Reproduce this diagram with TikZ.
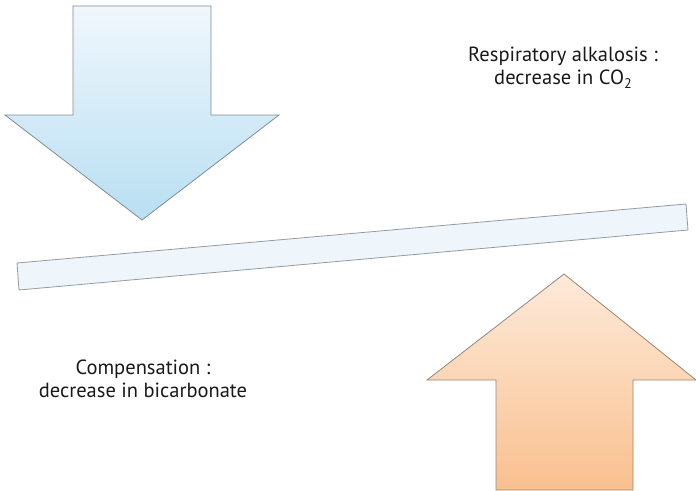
\documentclass[tikz,border=0pt]{standalone}
\usepackage{fontspec}
\setmainfont{PT Sans}
\definecolor{blueTop}{RGB}{240,247,252}
\definecolor{blueBot}{RGB}{184,223,242}
\definecolor{blueEdge}{RGB}{128,140,150}
\definecolor{barFill}{RGB}{238,245,251}
\definecolor{barEdge}{RGB}{150,155,160}
\definecolor{orTop}{RGB}{253,234,218}
\definecolor{orBot}{RGB}{249,192,143}
\definecolor{orEdge}{RGB}{150,135,120}
\newcommand{\lowsub}[1]{\raisebox{-4pt}{\fontsize{14}{14}\selectfont #1}}
\begin{document}
\begin{tikzpicture}[x=1pt,y=-1pt,
  outline/.style={draw=#1,line width=0.8pt,line join=miter},
  label/.style={align=center,font=\fontsize{20.5}{22.5}\selectfont,text=black!90,inner sep=0pt}]
\useasboundingbox (0,0) rectangle (696,490);
\fill[white] (0,0) rectangle (696,490);
% downward block arrow (blue)
\shade[top color=blueTop,bottom color=blueBot,outline=blueEdge]
  (73,6) -- (211,6) -- (211,115) -- (279,115) -- (142,220) -- (5,115) -- (73,115) -- cycle;
% tilted balance bar
\filldraw[fill=barFill,draw=barEdge,line width=0.8pt]
  (17,263) -- (686,204) -- (688,230) -- (19,290) -- cycle;
% upward block arrow (orange)
\shade[top color=orTop,bottom color=orBot,outline=orEdge]
  (564,274) -- (696,380) -- (633,380) -- (633,490) -- (496,490) -- (496,380) -- (427,380) -- cycle;
% labels
\node[label,anchor=base] (resp) at (563,84) {Respiratory alkalosis :\\decrease in CO\lowsub{2}};
\node[label,anchor=base] (comp) at (143,397) {Compensation :\\decrease in bicarbonate};
\end{tikzpicture}
\end{document}
